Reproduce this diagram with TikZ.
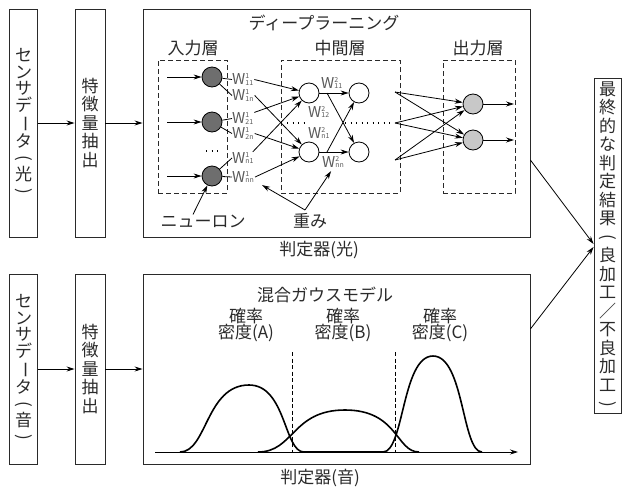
\documentclass[tikz,border=0pt]{standalone}
\usepackage{fontspec}
\setmainfont{Noto Sans CJK JP}
\usepackage{graphicx}
\usetikzlibrary{arrows.meta,calc}
\definecolor{ink}{HTML}{2A2A2A}
\definecolor{wgray}{HTML}{5A5A5A}
\definecolor{darkn}{HTML}{6E6E6E}
\definecolor{lightn}{HTML}{C8C8C8}
\newcommand\vlp{\rotatebox[origin=c]{-90}{(}}
\newcommand\vrp{\rotatebox[origin=c]{-90}{)}}
\newcommand\vbar{\rotatebox[origin=c]{-90}{ー}}
\newcommand\wlab[2]{W\makebox[0pt][l]{\raisebox{6.3pt}{\fontsize{7}{7}\selectfont #1}}\raisebox{-0.5pt}{\fontsize{7}{7}\selectfont #2}}
\tikzset{
  boxx/.style={draw=ink, line width=0.9pt, inner sep=0pt},
  dbox/.style={draw=ink, line width=0.8pt, dash pattern=on 5pt off 3pt},
  arr/.style={-{Stealth[length=8pt,width=5pt]}, line width=0.8pt, draw=black},
  ln/.style={line width=0.8pt, draw=black},
  neu/.style={circle, draw=black, line width=0.8pt, minimum size=20pt, inner sep=0pt},
  txt/.style={text=ink, inner sep=0pt, font=\fontsize{17}{17}\selectfont},
  vt/.style={text=ink, align=center, font=\fontsize{17}{#1}\selectfont},
  wl/.style={text=wgray, inner sep=0pt, font=\fontsize{15}{15}\selectfont},
  dots/.style={line width=1.3pt, dash pattern=on 1.3pt off 4.2pt},
  curve/.style={line width=1.6pt, draw=black},
  vdash/.style={line width=0.8pt, draw=black, dash pattern=on 4pt off 2.5pt}
}
\begin{document}
\begin{tikzpicture}[x=1pt,y=-1pt]
\useasboundingbox (0,0) rectangle (623,490);

% ---------- top row ----------
\node[boxx, vt=16.5, minimum width=28pt, minimum height=228pt] (s1) at (23.5,123)
  {セ\\ン\\サ\\デ\\\vbar\\タ\\\vlp\\光\\\vrp};
\node[boxx, vt=18.5, minimum width=30pt, minimum height=228pt] (f1) at (90,123)
  {特\\徴\\量\\抽\\出};
\node[boxx, minimum width=387pt, minimum height=228pt] (dl) at (336.5,123) {};
\draw[arr] (s1) -- (f1);
\draw[arr] (f1) -- (dl);
\node[txt] (dltitle) at (324,23) {ディープラーニング};
\node[txt] (inlab) at (193,48) {入力層};
\node[txt] (midlab) at (340,48) {中間層};
\node[txt] (outlab) at (478,48) {出力層};
\node[txt] (judge1) at (319,250) {判定器(光)};

\node[dbox, minimum width=69pt, minimum height=133pt] (inbox) at (192.5,126.5) {};
\node[dbox, minimum width=119pt, minimum height=133pt] (midbox) at (340.5,126.5) {};
\node[dbox, minimum width=72pt, minimum height=133pt] (outbox) at (479,126.5) {};

% input neurons
\node[neu, fill=darkn] (n1) at (212,77) {};
\node[neu, fill=darkn] (n2) at (212,122) {};
\node[neu, fill=darkn] (n3) at (212,176) {};
\coordinate (i1) at (167,77);
\coordinate (i2) at (167,122);
\coordinate (i3) at (167,176);
\draw[arr] (i1) -- (n1);
\draw[arr] (i2) -- (n2);
\draw[arr] (i3) -- (n3);
\draw[dots] (206,151) -- (222,151);

% weight labels layer 1
\node[wl, anchor=west] (w11) at (232,79.5) {\wlab{1}{11}};
\node[wl, anchor=west] (w1n) at (232,95.5) {\wlab{1}{1n}};
\node[wl, anchor=west] (w21) at (232,118.5) {\wlab{1}{21}};
\node[wl, anchor=west] (w2n) at (232,133.5) {\wlab{1}{2n}};
\node[wl, anchor=west] (wn1) at (232,158) {\wlab{1}{n1}};
\node[wl, anchor=west] (wnn) at (232,177) {\wlab{1}{nn}};

% middle neurons
\node[neu] (m1) at (309,93) {};
\node[neu] (m1p) at (359,93) {};
\node[neu] (m2) at (309,152) {};
\node[neu] (m2p) at (359,152) {};

\draw[ln] (n1) -- (w11.west);
\draw[ln] (n1) -- (w1n.west);
\draw[ln] (n2) -- (w21.west);
\draw[ln] (n2) -- (w2n.west);
\draw[ln] (n3) -- (wn1.west);
\draw[ln] (n3) -- (wnn.west);
\draw[arr] ([xshift=1pt]w11.east) -- (m1);
\draw[arr] ([xshift=1pt]w1n.east) -- (m2);
\draw[arr] ([xshift=1pt]w21.north east) -- (m1);
\draw[arr] ([xshift=1pt]w2n.east) -- (m2);
\draw[arr] ([xshift=-1pt]wn1.north east) -- (m1);
\draw[arr] ([xshift=1pt]wnn.east) -- (m2);

% layer 2 weights
\draw[arr] (m1) -- (m1p);
\draw[arr] (m2) -- (m2p);
\coordinate (c1) at (327,93);
\coordinate (c2) at (327,152);
\draw[arr] (c1) -- (m2p);
\draw[arr] (c2) -- (m1p);
\node[wl, anchor=west] (v11) at (321,83) {\wlab{2}{11}};
\node[wl, anchor=west] (v12) at (308,112) {\wlab{2}{12}};
\node[wl, anchor=west] (vn1) at (308,133) {\wlab{2}{n1}};
\node[wl, anchor=west] (vnn) at (322,162) {\wlab{2}{nn}};
\draw[dots] (287,123) -- (304,123);
\draw[dots] (345,123) -- (393,123);

% output layer
\coordinate (o1) at (395,92);
\coordinate (o2) at (395,123);
\coordinate (o3) at (395,160);
\node[neu, fill=lightn] (q1) at (473,104) {};
\node[neu, fill=lightn] (q2) at (473,140) {};
\foreach \s in {o1,o2,o3}{
  \draw[arr] (\s) -- (q1);
  \draw[arr] (\s) -- (q2);
}
\coordinate (e1) at (514,104);
\coordinate (e2) at (514,140);
\draw[arr] (q1) -- (e1);
\draw[arr] (q2) -- (e2);

% annotations
\node[txt] (neuron) at (203,221) {ニューロン};
\node[txt] (omomi) at (310,221) {重み};
\draw[arr] ([xshift=-10pt]neuron.north) -- (n3);
\coordinate (vx) at (305,210);
\draw[arr] (vx) -- ([xshift=8pt,yshift=-2pt]wnn.south east);
\draw[arr] (vx) -- ([xshift=-2pt,yshift=-3pt]vnn.south);

% ---------- bottom row ----------
\node[boxx, vt=16.5, minimum width=28pt, minimum height=190pt] (s2) at (23.5,369)
  {セ\\ン\\サ\\デ\\\vbar\\タ\\\vlp\\音\\\vrp};
\node[boxx, vt=18.5, minimum width=30pt, minimum height=190pt] (f2) at (90,369)
  {特\\徴\\量\\抽\\出};
\node[boxx, minimum width=387pt, minimum height=190pt] (gmm) at (336.5,369) {};
\draw[arr] (s2) -- (f2);
\draw[arr] (f2) -- (gmm);
\node[txt] (gtitle) at (325,295) {混合ガウスモデル};
\node[vt=16.5] (pa) at (246,325) {確率\\密度(A)};
\node[vt=16.5] (pb) at (343,325) {確率\\密度(B)};
\node[vt=16.5] (pc) at (440,325) {確率\\密度(C)};
\node[txt] (judge2) at (320,478) {判定器(音)};

\coordinate (ax0) at (155,452);
\coordinate (ax1) at (518,452);
\draw[arr] (ax0) -- (ax1);
\draw[vdash] (292,352) -- (292,452);
\draw[vdash] (395,352) -- (395,452);
\draw[curve] (180,452) .. controls (207,452) and (206,385) .. (249,385)
  .. controls (286,385) and (284,452) .. (304,452) -- (383,452);
\draw[curve] (258,452) .. controls (294,452) and (292,410) .. (345,410)
  .. controls (398,410) and (396,452) .. (419,452);
\draw[curve] (383,452) .. controls (404,452) and (402,356) .. (433,356)
  .. controls (464,356) and (462,452) .. (482,452);

% ---------- final ----------
\node[boxx, vt=18.5, minimum width=27pt, minimum height=335pt] (fin) at (607.5,245.5)
  {最\\終\\的\\な\\判\\定\\結\\果\\\vlp\\良\\加\\工\\／\\不\\良\\加\\工\\\vrp};
\draw[arr] ($(dl.north east)!0.662!(dl.south east)$) -- ([yshift=1.5pt]fin.west);
\draw[arr] ($(gmm.north east)!0.29!(gmm.south east)$) -- ([yshift=-1.5pt]fin.west);
\end{tikzpicture}
\end{document}
